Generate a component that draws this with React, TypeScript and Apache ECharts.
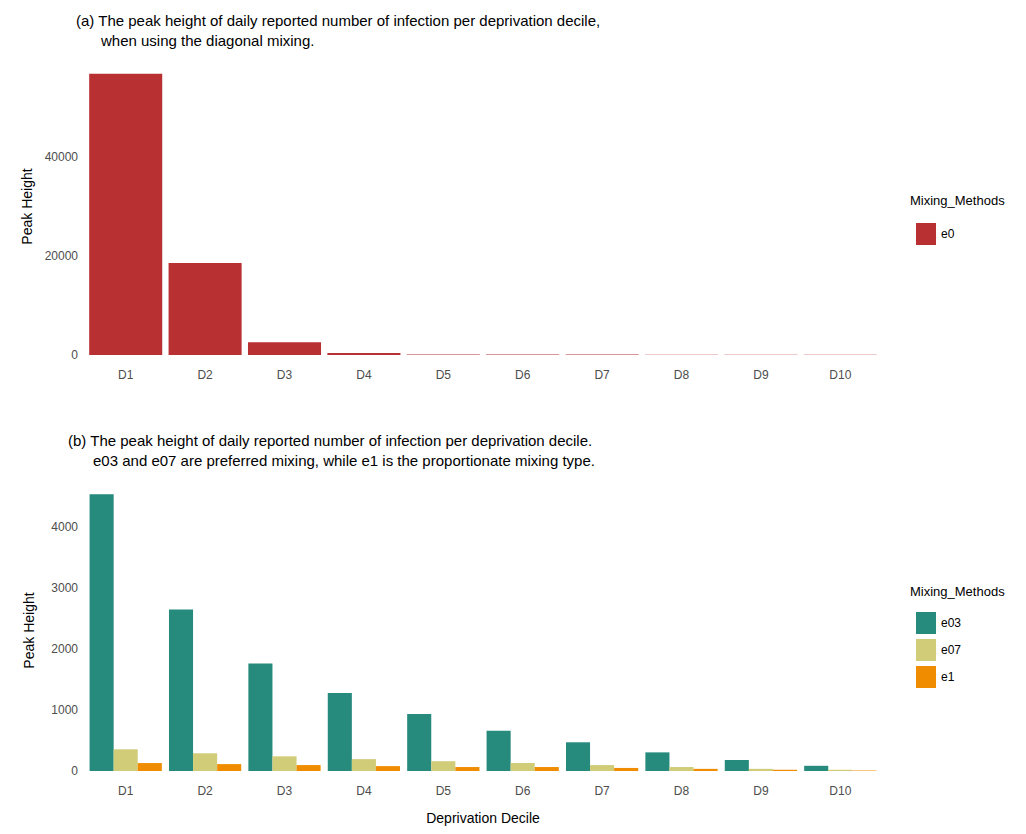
import React, { useEffect, useRef } from "react";
import * as echarts from "echarts";

const deciles = ["D1", "D2", "D3", "D4", "D5", "D6", "D7", "D8", "D9", "D10"];
const e0 = [56800, 18600, 2600, 400, 110, 90, 80, 70, 60, 50];
const e03 = [4530, 2645, 1760, 1275, 935, 660, 470, 305, 180, 85];
const e07 = [355, 290, 240, 194, 160, 130, 97, 65, 35, 20];
const e1 = [130, 113, 97, 80, 65, 65, 50, 35, 20, 8];

const FONT = "Liberation Sans, Arial, sans-serif";
const axisLabel = { color: "#4d4d4d", fontSize: 12, fontFamily: FONT };

const App: React.FC = () => {
  const ref = useRef<HTMLDivElement>(null);

  useEffect(() => {
    const chart = echarts.init(ref.current!, undefined, { renderer: "svg" });
    const txt = (x: number, y: number, text: string, size = 15) => ({
      type: "text",
      x,
      y,
      style: { text, fill: "#000", fontSize: size, fontFamily: FONT, lineHeight: 20 },
    });
    const yAx = (grid: number, max: number, interval: number) => ({
      type: "value",
      gridIndex: grid,
      min: 0,
      max,
      interval,
      name: "Peak Height",
      nameLocation: "middle",
      nameGap: 50,
      nameTextStyle: { color: "#000", fontSize: 14, fontFamily: FONT },
      axisLine: { show: false },
      axisTick: { show: false },
      splitLine: { show: false },
      axisLabel: {
        ...axisLabel,
        formatter: (v: number) => (v % interval === 0 && v < max ? String(v) : ""),
      },
    });
    const xAx = (grid: number, name?: string) => ({
      type: "category",
      gridIndex: grid,
      data: deciles,
      axisLine: { show: false },
      axisTick: { show: false },
      axisLabel: { ...axisLabel, margin: 14 },
      name,
      nameLocation: "middle",
      nameGap: 40,
      nameTextStyle: { color: "#000", fontSize: 14, fontFamily: FONT },
    });
    chart.setOption({
      animation: false,
      backgroundColor: "#fff",
      grid: [
        { left: 78, right: 138, top: 50, height: 297 },
        { left: 78, right: 138, top: 482, height: 285 },
      ],
      xAxis: [xAx(0), xAx(1, "Deprivation Decile")],
      yAxis: [yAx(0, 60000, 20000), yAx(1, 4600, 1000)],
      legend: [
        {
          data: ["e0"],
          orient: "vertical",
          left: 903,
          top: 210,
          itemWidth: 20,
          itemHeight: 22,
          icon: "rect",
          textStyle: { ...axisLabel, color: "#000" },
        },
        {
          data: ["e03", "e07", "e1"],
          orient: "vertical",
          left: 903,
          top: 599,
          itemWidth: 20,
          itemHeight: 22,
          itemGap: 5,
          icon: "rect",
          textStyle: { ...axisLabel, color: "#000" },
        },
      ],
      graphic: [
        txt(68, 2, "(a) The peak height of daily reported number of infection per deprivation decile,\n      when using the diagonal mixing."),
        txt(60, 422, "(b) The peak height of daily reported number of infection per deprivation decile.\n      e03 and e07 are preferred mixing, while e1 is the proportionate mixing type."),
        txt(902, 182, "Mixing_Methods", 13),
        txt(902, 573, "Mixing_Methods", 13),
      ],
      series: [
        { name: "e0", type: "bar", xAxisIndex: 0, yAxisIndex: 0, data: e0, barCategoryGap: "8%", itemStyle: { color: "#B83032" } },
        { name: "e03", type: "bar", xAxisIndex: 1, yAxisIndex: 1, data: e03, barGap: "0%", barCategoryGap: "9%", itemStyle: { color: "#268A7D" } },
        { name: "e07", type: "bar", xAxisIndex: 1, yAxisIndex: 1, data: e07, barGap: "0%", barCategoryGap: "9%", itemStyle: { color: "#D0CC78" } },
        { name: "e1", type: "bar", xAxisIndex: 1, yAxisIndex: 1, data: e1, barGap: "0%", barCategoryGap: "9%", itemStyle: { color: "#F08C00" } },
      ],
    } as any);
    return () => chart.dispose();
  }, []);

  return <div ref={ref} style={{ width: 1010, height: 818 }} />;
};

export default App;
